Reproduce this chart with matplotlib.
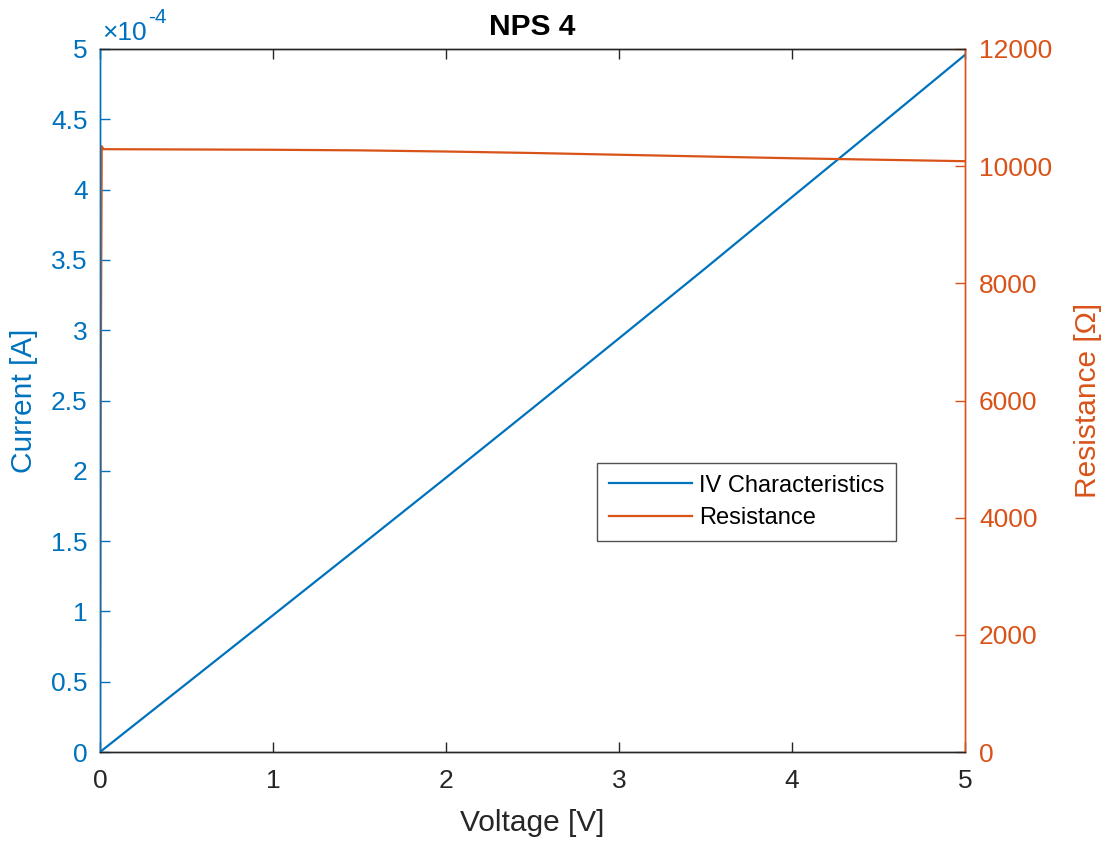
import matplotlib
matplotlib.use("Agg")
import matplotlib.pyplot as plt
from matplotlib.ticker import FuncFormatter, FixedLocator

plt.rcParams['font.family'] = ['Liberation Sans', 'DejaVu Sans']

# Measured sweep of NPS 4
voltage = [0.0, 0.004, 0.01, 0.02, 0.5, 1.0, 1.5, 2.0, 2.5, 3.0, 3.5, 4.0, 4.5, 5.0]
resistance = [0, 6000, 10340, 10290, 10285, 10280, 10270, 10250, 10225, 10195, 10165, 10135, 10110, 10085]
current = [0.0, 0.0067e-4, 0.0097e-4, 0.0194e-4, 0.486e-4, 0.973e-4, 1.461e-4, 1.951e-4,
           2.445e-4, 2.942e-4, 3.441e-4, 3.947e-4, 4.451e-4, 4.958e-4]

x_ticks = [0, 1, 2, 3, 4, 5]
current_ticks = [i * 0.5e-4 for i in range(11)]
resistance_ticks = [0, 2000, 4000, 6000, 8000, 10000, 12000]

blue = '#0072BD'
orange = '#D95319'
dark = '#262626'

fig = plt.figure(figsize=(11.08, 8.44), dpi=100)
ax = fig.add_axes([100/1108, 92/844, 865/1108, 703/844])
ax2 = ax.twinx()

l1, = ax.plot(voltage, current, color=blue, lw=1.6, label='IV Characteristics')
l2, = ax2.plot(voltage, resistance, color=orange, lw=1.6, label='Resistance')

ax.set_xlim(0, 5)
ax.set_ylim(0, 5e-4)
ax2.set_ylim(0, 12000)

ax.xaxis.set_major_locator(FixedLocator(x_ticks))
ax.yaxis.set_major_locator(FixedLocator(current_ticks))
ax.yaxis.set_major_formatter(FuncFormatter(lambda v, p: f"{v*1e4:g}"))
ax2.yaxis.set_major_locator(FixedLocator(resistance_ticks))

ax.tick_params(axis='x', direction='in', top=True, colors=dark, labelsize=19,
               length=7, width=1, pad=12)
ax.tick_params(axis='y', direction='in', colors=blue, labelsize=19,
               length=7, width=1, pad=9)
ax2.tick_params(axis='y', direction='in', colors=orange, labelsize=19,
                length=7, width=1, pad=10)
ax2.tick_params(axis='x', top=False)

for a in (ax, ax2):
    a.spines['top'].set_color(dark)
    a.spines['bottom'].set_color(dark)
    a.spines['left'].set_color(blue)
    a.spines['right'].set_color(orange)
    for s in a.spines.values():
        s.set_linewidth(1.0)

ax.set_xlabel('Voltage [V]', fontsize=21.5, color=dark, labelpad=12)
ax.set_ylabel('Current [A]', fontsize=21.5, color=blue, labelpad=9)
ax2.set_ylabel('Resistance [Ω]', fontsize=21.5, color=orange, labelpad=16)
ax.set_title('NPS 4', fontsize=21.5, fontweight='bold', color='black', pad=10)

# exponent of the left axis, drawn in the top-left corner
ax.text(0.003, 1.006, '×10', transform=ax.transAxes, color=blue,
        fontsize=19, ha='left', va='bottom')
ax.text(0.056, 1.032, '-4', transform=ax.transAxes, color=blue,
        fontsize=15, ha='left', va='bottom')

leg = ax2.legend(handles=[l1, l2], loc='lower left', bbox_to_anchor=(0.575, 0.30),
                 fontsize=17, frameon=True, fancybox=False, edgecolor=dark,
                 handlelength=3.5, borderpad=0.5, labelspacing=0.45,
                 handletextpad=0.3, borderaxespad=0)
leg.get_frame().set_linewidth(1.0)

fig.savefig('out.png', dpi=100, facecolor='white')
